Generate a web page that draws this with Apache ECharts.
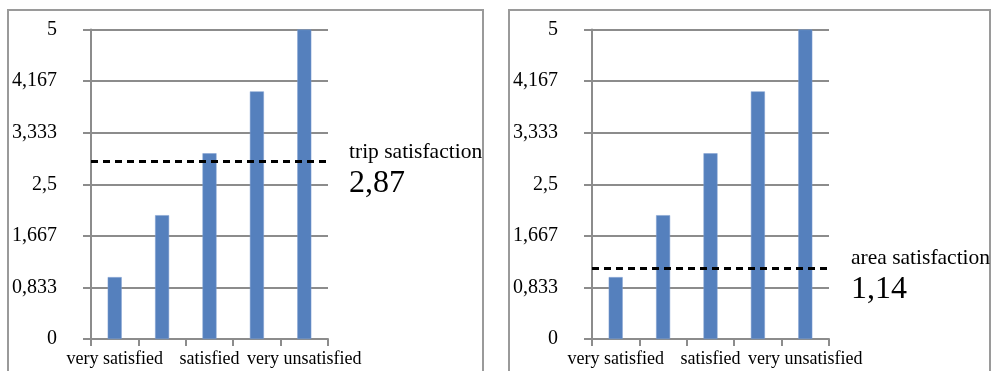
<!DOCTYPE html>
<html>
<head>
<meta charset="utf-8">
<script src="https://cdn.jsdelivr.net/npm/echarts@6/dist/echarts.min.js"></script>
<style>
  html, body { margin: 0; padding: 0; background: #fff; }
  #chart { width: 996px; height: 371px; }
</style>
</head>
<body>
<div id="chart"></div>
<script>
// Satisfaction levels (every other label is shown on the axis)
const categories = ['very satisfied', '', 'satisfied', '', 'very unsatisfied'];
// Score for each level, same in both panels
const tripValues = [1, 2, 3, 4, 5];
const areaValues = [1, 2, 3, 4, 5];
// Mean satisfaction drawn as a dashed reference line
const tripMean = 2.87;
const areaMean = 1.14;
const tripTitle = 'trip satisfaction';
const areaTitle = 'area satisfaction';
// Value-axis tick labels (0 .. 5 in sixths)
const yTickLabels = ['0', '0,833', '1,667', '2,5', '3,333', '4,167', '5'];

const FONT = '"Liberation Serif", "Times New Roman", serif';
const GRAY = '#8c8c8c';
const BAR = '#5580bd';
const STEP = 5 / 6;

const fmtComma = v => String(v).replace('.', ',');

function grid(left) {
  return { left: left, top: 29.5, width: 237, height: 309.5 };
}
function xAxis(i) {
  return {
    type: 'category', gridIndex: i, data: categories, boundaryGap: true,
    axisLine: { lineStyle: { color: GRAY, width: 2 } },
    axisTick: { show: true, length: 7, lineStyle: { color: GRAY, width: 2 } },
    axisLabel: { interval: 0, margin: 11, color: '#000', fontFamily: FONT, fontSize: 18 },
    splitLine: { show: false }
  };
}
function yAxis(i) {
  return {
    type: 'value', gridIndex: i, min: 0, max: 5, interval: STEP,
    axisLine: { show: true, lineStyle: { color: GRAY, width: 2 } },
    axisTick: { show: true, length: 8, lineStyle: { color: GRAY, width: 2 } },
    axisLabel: {
      margin: 34, color: '#000', fontFamily: FONT, fontSize: 20,
      formatter: v => yTickLabels[Math.round(v / STEP)]
    },
    splitLine: { show: true, lineStyle: { color: GRAY, width: 2 } }
  };
}
function barSeries(i, values, mean) {
  return {
    type: 'bar', xAxisIndex: i, yAxisIndex: i, data: values, barWidth: 14,
    itemStyle: { color: BAR, borderColor: '#7f9fd0', borderWidth: 0.5 },
    markLine: {
      silent: true, symbol: 'none', animation: false,
      label: { show: false },
      lineStyle: { color: '#000', width: 3, type: [7, 5] },
      data: [{ yAxis: mean }]
    },
    animation: false
  };
}
function note(left, top, titleText, mean) {
  return [
    { type: 'text', left: left, top: top,
      style: { text: titleText, fill: '#000', font: '21.5px ' + FONT } },
    { type: 'text', left: left, top: top + 27,
      style: { text: fmtComma(mean), fill: '#000', font: '32px ' + FONT } }
  ];
}

const chart = echarts.init(document.getElementById('chart'), null, { renderer: 'canvas' });
chart.setOption({
  backgroundColor: '#fff',
  animation: false,
  grid: [grid(91), grid(592)],
  xAxis: [xAxis(0), xAxis(1)],
  yAxis: [yAxis(0), yAxis(1)],
  series: [barSeries(0, tripValues, tripMean), barSeries(1, areaValues, areaMean)],
  graphic: [
    { type: 'rect', shape: { x: 8, y: 10, width: 475, height: 370 },
      style: { fill: 'none', stroke: '#9a9a9a', lineWidth: 2 }, z: -1 },
    { type: 'rect', shape: { x: 509, y: 10, width: 481, height: 370 },
      style: { fill: 'none', stroke: '#9a9a9a', lineWidth: 2 }, z: -1 },
    ...note(349, 141, tripTitle, tripMean),
    ...note(851, 247, areaTitle, areaMean)
  ]
});
</script>
</body>
</html>
